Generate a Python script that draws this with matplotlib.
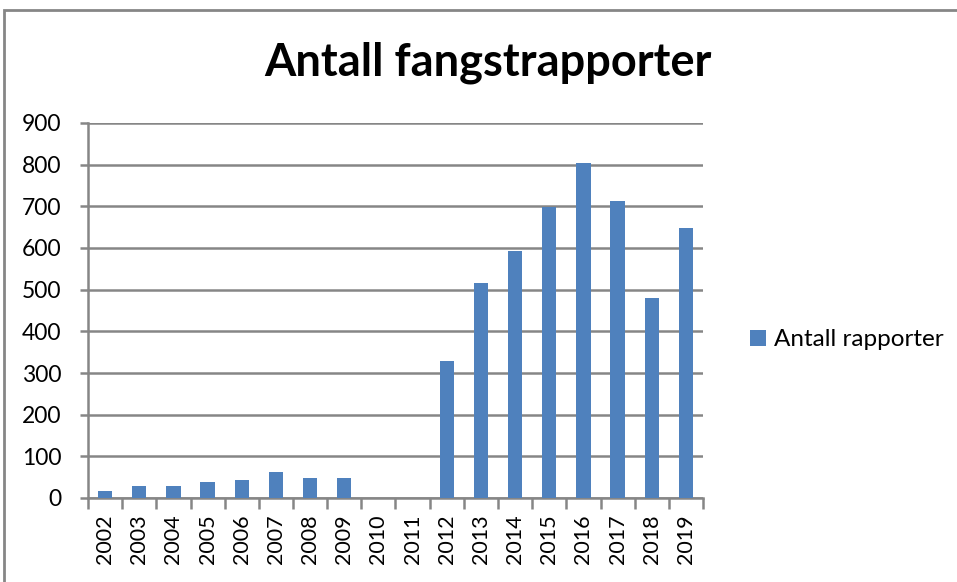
import matplotlib.pyplot as plt
from matplotlib.patches import Rectangle
import numpy as np

years = ['2002', '2003', '2004', '2005', '2006', '2007', '2008', '2009', '2010',
         '2011', '2012', '2013', '2014', '2015', '2016', '2017', '2018', '2019']
reports = [16, 28, 28, 38, 44, 62, 47, 47, 0, 0, 329, 517, 593, 698, 805, 713, 480, 648]
yticks = [0, 100, 200, 300, 400, 500, 600, 700, 800, 900]

bar_color = '#4F81BD'
grid_color = '#868686'

plt.rcParams['font.family'] = ['Lato', 'DejaVu Sans']

fig = plt.figure(figsize=(9.57, 5.82), dpi=100)
# outer chart frame (Excel-style chart area border)
fig.patches.append(Rectangle((4 / 957, -0.05), 1.2, 1 - 10 / 582 + 0.05,
                             transform=fig.transFigure, fill=False,
                             edgecolor=grid_color, lw=2))

ax = fig.add_axes([88 / 957, 84 / 582, 615 / 957, 375 / 582])
x = np.arange(len(years))
ax.bar(x, reports, width=0.42, color=bar_color, label='Antall rapporter', zorder=3)

ax.set_xlim(-0.5, len(years) - 0.5)
ax.set_ylim(0, 900)
ax.set_yticks(yticks)
ax.set_yticklabels([str(v) for v in yticks], fontsize=16.5)
ax.yaxis.grid(True, color=grid_color, lw=1.8, zorder=0)

ax.set_xticks(x)
ax.set_xticklabels(years, rotation=90, fontsize=15.5)
ax.set_xticks(np.arange(len(years) + 1) - 0.5, minor=True)
ax.tick_params(axis='x', which='major', length=0, pad=12)
ax.tick_params(axis='x', which='minor', length=8, width=1.8, color=grid_color)
ax.tick_params(axis='y', length=6, width=1.8, color=grid_color, pad=13)

for side in ['top', 'right']:
    ax.spines[side].set_visible(False)
for side in ['left', 'bottom']:
    ax.spines[side].set_color(grid_color)
    ax.spines[side].set_linewidth(1.8)

fig.text(488 / 957, 1 - 76 / 582, 'Antall fangstrapporter', ha='center', va='baseline',
         fontsize=32.5, fontweight='bold')

fig.legend(loc='center left', bbox_to_anchor=(728 / 957, 1 - 340 / 582), frameon=False,
           fontsize=17.5, handlelength=0.65, handleheight=0.65, handletextpad=0.35)

fig.savefig('out.png', dpi=100)
